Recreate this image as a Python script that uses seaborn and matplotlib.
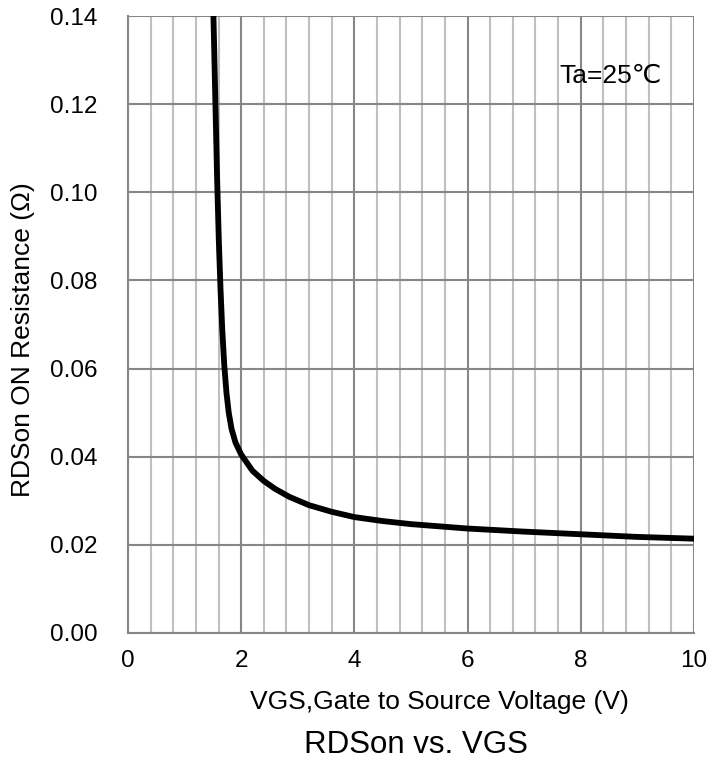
import numpy as np
import pandas as pd
import matplotlib
matplotlib.use("Agg")
import matplotlib.pyplot as plt
import seaborn as sns
from matplotlib.ticker import MultipleLocator

# values
vgs = [1.51, 1.545, 1.575, 1.605, 1.635, 1.665, 1.70, 1.74, 1.78, 1.83, 1.90,
       2.00, 2.20, 2.40, 2.60, 2.85, 3.20, 3.60, 4.00, 4.50, 5.00, 6.00, 7.00,
       8.00, 9.00, 10.0]
rdson = [0.140, 0.120, 0.103, 0.089, 0.078, 0.069, 0.061, 0.0545, 0.0500,
         0.0463, 0.0432, 0.0405, 0.0368, 0.0345, 0.0327, 0.0309, 0.0290,
         0.0275, 0.0263, 0.0254, 0.0247, 0.0237, 0.0230, 0.0224, 0.0218,
         0.0214]
x_ticks = [0, 2, 4, 6, 8, 10]
y_ticks = [0.00, 0.02, 0.04, 0.06, 0.08, 0.10, 0.12, 0.14]

df = pd.DataFrame({"VGS": vgs, "RDSon": rdson})

sns.set_style("white")
plt.rcParams['font.family'] = ['Liberation Sans', 'DejaVu Sans']
plt.rcParams['text.color'] = 'black'
plt.rcParams['xtick.labelcolor'] = 'black'
plt.rcParams['ytick.labelcolor'] = 'black'

fig = plt.figure(figsize=(7.22, 7.64), dpi=100)
ax = fig.add_axes([0.1773, 0.1715, 0.7837, 0.8075])

sns.lineplot(data=df, x="VGS", y="RDSon", ax=ax, color="black", linewidth=4.2)
ax.lines[0].set_solid_joinstyle("round")

ax.set_xlim(0, 10)
ax.set_ylim(0, 0.14)
ax.set_xticks(x_ticks)
ax.set_yticks(y_ticks)
ax.set_yticklabels([f"{v:.2f}" for v in y_ticks])
ax.xaxis.set_minor_locator(MultipleLocator(0.4))

ax.grid(which="major", color="#878787", linewidth=1.5)
ax.grid(which="minor", axis="x", color="#bfbfbf", linewidth=1.5)
ax.set_axisbelow(True)

for s in ["top", "right"]:
    ax.spines[s].set_visible(False)
for s in ["left", "bottom"]:
    ax.spines[s].set_color("#878787")
    ax.spines[s].set_linewidth(1.5)

ax.tick_params(axis="both", which="major", direction="out", length=6,
               width=1.5, color="#878787", labelsize=17.5, labelcolor="black")
ax.tick_params(axis="y", pad=16)
ax.tick_params(axis="x", pad=6)
ax.tick_params(axis="x", which="minor", length=0)

ax.set_xlabel("")
ax.set_ylabel("")
fig.text(0.608, 0.081, "VGS,Gate to Source Voltage (V)", fontsize=19,
         ha="center", va="center", color="black")
fig.text(0.032, 0.556, "RDSon ON Resistance (Ω)", fontsize=19,
         rotation=90, ha="center", va="center", color="black")

ax.text(7.63, 0.1265, "Ta=25℃", fontsize=19, va="center", ha="left",
        color="black")

fig.text(0.576, 0.025, "RDSon vs. VGS", fontsize=22.5, ha="center",
         va="center", color="black")

fig.savefig("out.png", dpi=100)
